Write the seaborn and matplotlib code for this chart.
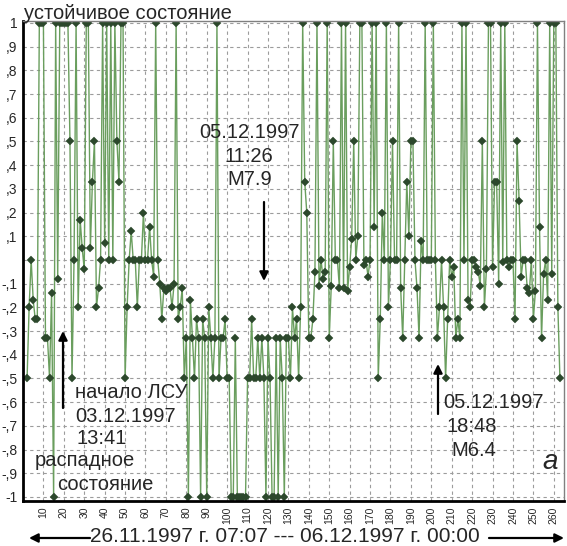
import numpy as np
import pandas as pd
import matplotlib
matplotlib.use("Agg")
import matplotlib.pyplot as plt
import seaborn as sns

# State index series, one value per step (steps start at 2)
state = [
    -0.5, -0.2, 0.0, -0.17, -0.25, -0.25, 1.0, 1.0, 1.0,               # 2-10
    -0.33, -0.33, -0.5, -0.14, -1.0, 1.0, -0.08, 1.0, 1.0, 1.0,          # 11-20
    1.0, 1.0, 0.5, -0.5, 0.0, 1.0, -0.2, 0.17, 0.05, -0.04,              # 21-30
    1.0, 1.0, 0.05, 0.33, 0.5, -0.2, -0.12, 0.0, 1.0, 0.07,              # 31-40
    1.0, 0.0, 1.0, 0.0, 1.0, 0.5, 0.33, 1.0, 1.0, -0.5,                  # 41-50
    -0.2, 0.0, 0.12, 0.0, 0.0, -0.2, 0.0, 0.0, 0.2, 0.0,                 # 51-60
    0.0, 0.14, 0.0, -0.07, 1.0, 0.0, -0.1, -0.25, -0.12, -0.13,          # 61-70
    -0.12, -0.12, -0.2, -0.1, 1.0, -0.25, -0.2, -0.12, -0.5, -0.33,      # 71-80
    -1.0, -0.17, -0.33, -0.5, -0.25, -0.33, -1.0, -0.25, -0.33, -1.0,    # 81-90
    -0.2, -0.33, -0.5, -0.33, 1.0, -0.5, -0.33, -0.33, -0.25, -0.5,      # 91-100
    -0.5, -1.0, -1.0, -0.33, -1.0, -1.0, -1.0, -1.0, -1.0, -0.5,         # 101-110
    -0.5, -0.25, -0.5, -0.5, -0.33, -0.5, -0.33, -0.5, -1.0, -0.33,      # 111-120
    -0.5, -1.0, -1.0, -0.33, -1.0, -0.33, -0.5, -1.0, -0.33, -0.33,      # 121-130
    -0.5, -0.2, -0.33, -0.25, -0.5, -0.2, 1.0, 0.33, 0.2, -0.33,         # 131-140
    -0.33, -0.25, -0.05, 1.0, -0.11, 0.0, -0.08, -0.05, 1.0, -0.33,      # 141-150
    -0.11, 0.5, 0.0, 0.0, -0.12, 1.0, -0.12, 1.0, -0.13, -0.03,          # 151-160
    0.09, 0.5, 0.0, 0.1, 1.0, 1.0, -0.02, 0.0, -0.07, 0.0,               # 161-170
    1.0, 0.14, 1.0, -0.5, -0.25, 0.2, 0.0, 1.0, -0.2, 0.0,               # 171-180
    0.5, 0.0, 0.0, 1.0, -0.12, -0.33, 0.0, 0.33, 0.1, 0.5,               # 181-190
    0.5, 0.0, -0.12, -0.33, 0.08, 0.0, 1.0, 0.0, 0.0, 0.0,               # 191-200
    1.0, 0.0, -0.33, -0.2, 0.0, -0.2, -0.5, -0.25, 0.0, -0.07,           # 201-210
    -0.03, -0.33, -0.25, -0.33, 1.0, 0.0, 1.0, -0.17, -0.2, 0.0,         # 211-220
    0.0, -0.03, -0.05, -0.11, 0.5, -0.2, -0.04, 1.0, 1.0, -0.03,         # 221-230
    0.33, 0.33, -0.1, 1.0, -0.01, 1.0, 0.0, -0.03, 0.0, 0.0,             # 231-240
    -0.25, 0.5, 0.25, -0.07, 0.0, 0.0, -0.12, -0.14, 0.0, -0.25,         # 241-250
    -0.13, 1.0, 0.14, -0.33, -0.06, 0.0, -0.17, 1.0, -0.06, 1.0,         # 251-260
    1.0, -0.2, -0.5,                                                     # 261-263
]
steps = list(range(2, 2 + len(state)))

y_ticks = [1.0, 0.9, 0.8, 0.7, 0.6, 0.5, 0.4, 0.3, 0.2, 0.1, 0.0,
           -0.1, -0.2, -0.3, -0.4, -0.5, -0.6, -0.7, -0.8, -0.9, -1.0]
y_labels = ["1", ",9", ",8", ",7", ",6", ",5", ",4", ",3", ",2", ",1", "",
            "-,1", "-,2", "-,3", "-,4", "-,5", "-,6", "-,7", "-,8", "-,9", "-1"]
x_ticks = list(range(10, 270, 10))

sns.set_style("white")
plt.rcParams["font.family"] = ["Liberation Sans", "DejaVu Sans"]

W, H = 567, 546
fig = plt.figure(figsize=(W / 100, H / 100), dpi=100)
ax = fig.add_axes([23 / W, 1 - 501 / H, (564 - 23) / W, (501 - 21) / H])

df = pd.DataFrame({"step": steps, "state": state})
sns.lineplot(data=df, x="step", y="state", ax=ax, estimator=None, sort=False,
             color="#6a9e5e", linewidth=1.0, marker="D", markersize=3.8,
             markerfacecolor="#2c482c", markeredgecolor="#2c482c",
             markeredgewidth=0.3)

ax.set_xlim(0, 265)
ax.set_ylim(-1.017, 1.008)
ax.set_xlabel("")
ax.set_ylabel("")

ax.set_yticks(y_ticks)
ax.set_yticklabels(y_labels, fontsize=10)
ax.set_xticks(x_ticks)
ax.set_xticklabels([str(t) for t in x_ticks], rotation=90, fontsize=7.5)
ax.set_xticks(np.arange(5, 265, 5), minor=True)
ax.tick_params(axis="y", length=2, pad=2, color="black")
ax.tick_params(axis="x", which="major", length=3, pad=1, color="black")
ax.tick_params(axis="x", which="minor", length=2, color="black")

ax.grid(True, which="major", linestyle=(0, (3, 3)), color="#9c9c9c", linewidth=0.8)
for side in ("left", "bottom"):
    ax.spines[side].set_color("black")
    ax.spines[side].set_linewidth(2.0)
for side in ("top", "right"):
    ax.spines[side].set_color("#808080")
    ax.spines[side].set_linewidth(1.0)


def P(x, y):
    return (x / W, 1 - y / H)


fs = 14.5
fig.text(*P(24, 19), "устойчивое состояние", fontsize=fs, ha="left", va="baseline")

fig.text(*P(75, 393), "начало ЛСУ", fontsize=fs, ha="left", va="center")
fig.text(*P(75, 416), "03.12.1997", fontsize=fs, ha="left", va="center")
fig.text(*P(77, 439), "13:41", fontsize=fs, ha="left", va="center")
fig.text(*P(35, 461), "распадное", fontsize=fs, ha="left", va="center")
fig.text(*P(57, 484), "состояние", fontsize=fs, ha="left", va="center")

fig.text(*P(250, 133), "05.12.1997", fontsize=fs, ha="center", va="center")
fig.text(*P(249, 157), "11:26", fontsize=fs, ha="center", va="center")
fig.text(*P(250, 180), "M7.9", fontsize=fs, ha="center", va="center")

fig.text(*P(443, 403), "05.12.1997", fontsize=fs, ha="left", va="center")
fig.text(*P(446, 427), "18:48", fontsize=fs, ha="left", va="center")
fig.text(*P(451, 450), "M6.4", fontsize=fs, ha="left", va="center")

fig.text(*P(550, 462), "a", fontsize=20, style="italic", ha="center", va="center")

fig.text(*P(90, 537), "26.11.1997 г. 07:07 --- 06.12.1997 г. 00:00",
         fontsize=15, ha="left", va="center")

arrow = dict(arrowstyle="-|>", color="black", lw=1.6, mutation_scale=13,
             shrinkA=0, shrinkB=0)
for tail, tip in [((63, 408), (63, 331)),
                  ((264, 202), (264, 281)),
                  ((438, 414), (438, 364)),
                  ((90, 538), (29, 538)),
                  ((489, 538), (564, 538))]:
    ax.annotate("", xy=P(*tip), xytext=P(*tail), xycoords="figure fraction",
                textcoords="figure fraction", arrowprops=arrow,
                annotation_clip=False)

fig.savefig("out.png", dpi=100)
